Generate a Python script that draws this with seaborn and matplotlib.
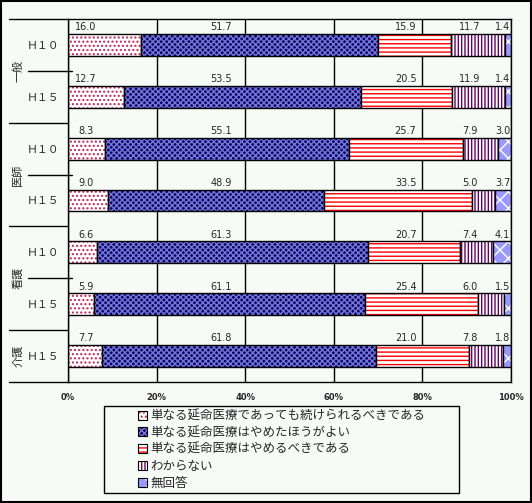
import matplotlib
matplotlib.use("Agg")
import matplotlib.pyplot as plt
import seaborn as sns
import pandas as pd
from matplotlib.patches import Patch, Rectangle

# respondent groups and survey years, one entry per bar (top to bottom)
groups = ["一般", "一般", "医師", "医師", "看護", "看護", "介護"]
years = ["Ｈ１０", "Ｈ１５", "Ｈ１０", "Ｈ１５", "Ｈ１０", "Ｈ１５", "Ｈ１５"]

answers = [
    "単なる延命医療であっても続けられるべきである",
    "単なる延命医療はやめたほうがよい",
    "単なる延命医療はやめるべきである",
    "わからない",
    "無回答",
]

# percent values as printed on the chart
keep_going = [16.0, 12.7, 8.3, 9.0, 6.6, 5.9, 7.7]
better_stop = [51.7, 53.5, 55.1, 48.9, 61.3, 61.1, 61.8]
should_stop = [15.9, 20.5, 25.7, 33.5, 20.7, 25.4, 21.0]
dont_know = [11.7, 11.9, 7.9, 5.0, 7.4, 6.0, 7.8]
no_answer = [1.4, 1.4, 3.0, 3.7, 4.1, 1.5, 1.8]
series = [keep_going, better_stop, should_stop, dont_know, no_answer]

# (face colour, hatch, hatch colour) per answer
styles = [
    ("white", "....", "#C0245C"),
    ("#000080", "xxxxxx", "#7A7AC4"),
    ("white", "----", "#FF0000"),
    ("white", "|||||", "#660066"),
    ("#9999FF", "xx", "white"),
]
label_cols = [4.0, 34.5, 76.2, 90.7, 98.1]  # x position of the value labels (%)

BG = "#F6FBF6"

sns.set_style("white", {"axes.facecolor": BG, "figure.facecolor": BG})
plt.rcParams["font.family"] = ["Noto Sans CJK JP", "DejaVu Sans"]
plt.rcParams["hatch.linewidth"] = 1.0

rows = [g + y for g, y in zip(groups, years)]
totals = [sum(v) for v in zip(*series)]
df = pd.DataFrame({"row": rows})
for name, vals in zip(answers, series):
    # 100% stacked: each row is normalised to its own total
    df[name] = [v / t * 100 for v, t in zip(vals, totals)]

fig = plt.figure(figsize=(5.32, 5.03), dpi=100)
ax = fig.add_axes([68 / 532, 1 - 382 / 503, 443 / 532, 363 / 503])

left = [0.0] * len(rows)
for name, (face, hatch, hcol) in zip(answers, styles):
    sns.barplot(data=df, x=name, y="row", orient="y", errorbar=None,
                width=0.42, color=face, saturation=1, left=left,
                hatch=hatch, edgecolor=hcol, linewidth=0, ax=ax)
    sns.barplot(data=df, x=name, y="row", orient="y", errorbar=None,
                width=0.42, fill=False, color="black", left=left,
                linewidth=1, ax=ax)
    left = [l + p for l, p in zip(left, df[name])]

# value labels above each bar
for k, vals in enumerate(series):
    for i, v in enumerate(vals):
        ax.text(label_cols[k], i - 0.34, f"{v:.1f}", ha="center", va="center",
                fontsize=7, family="DejaVu Sans")

ax.set_xlim(0, 100)
ax.set_ylim(len(rows) - 0.5, -0.5)
ax.set_xticks(range(0, 101, 20))
ax.set_xticklabels([f"{t}%" for t in range(0, 101, 20)], fontsize=6,
                   fontweight="bold", family="DejaVu Sans")
ax.set_yticks(range(len(rows)))
ax.set_yticklabels(years, fontsize=7.8)
ax.tick_params(axis="both", length=0)
ax.tick_params(axis="x", pad=8)
ax.tick_params(axis="y", pad=6)
ax.set_xlabel("")
ax.set_ylabel("")
ax.xaxis.grid(True, color="black", linewidth=1)
ax.set_axisbelow(True)
for sp in ax.spines.values():
    sp.set_visible(True)
    sp.set_color("black")
    sp.set_linewidth(1)

# two-level category axis: group boundaries and year ticks
trans = ax.get_yaxis_transform()
bounds = [-0.5] + [i + 0.5 for i in range(len(groups) - 1) if groups[i] != groups[i + 1]] + [len(groups) - 0.5]
for b in bounds:
    ax.plot([-0.133, 0], [b, b], color="black", lw=1, transform=trans, clip_on=False)
for i in range(len(groups) - 1):
    if groups[i] == groups[i + 1]:
        ax.plot([-0.09, 0.009], [i + 0.5, i + 0.5], color="black", lw=1,
                transform=trans, clip_on=False)
for g in dict.fromkeys(groups):
    idx = [i for i, x in enumerate(groups) if x == g]
    ax.text(-0.113, sum(idx) / len(idx), g, rotation=90, ha="center", va="center",
            fontsize=8, transform=trans)

# legend in a plain box
handles = []
for face, hatch, hcol in styles:
    handles.append((Patch(facecolor=face, hatch=hatch, edgecolor=hcol, linewidth=0),
                    Patch(facecolor="none", edgecolor="black", linewidth=0.8)))
fig.legend(handles, answers, loc="center", bbox_to_anchor=(0.529, 0.1064),
           bbox_transform=fig.transFigure, frameon=False, fontsize=9,
           handlelength=0.75, handleheight=0.75, handletextpad=0.25,
           labelspacing=0.3, borderpad=0)
fig.patches.append(Rectangle((104 / 532, 1 - 493 / 503), 355 / 532, 87 / 503,
                             transform=fig.transFigure, fill=False,
                             edgecolor="black", linewidth=1))
fig.patches.append(Rectangle((0.002, 0.002), 0.996, 0.996, transform=fig.transFigure,
                             fill=False, edgecolor="black", linewidth=1.5))

fig.savefig("out.png", dpi=100, facecolor=BG)
